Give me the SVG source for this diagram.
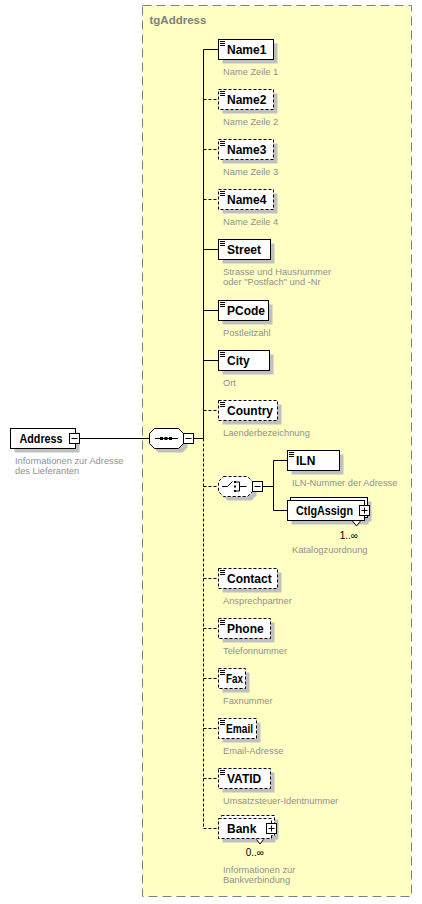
<svg xmlns="http://www.w3.org/2000/svg" xmlns:xlink="http://www.w3.org/1999/xlink" width="422" height="904" viewBox="0 0 422 904">
<style>
.bx{fill:#fff;stroke:#000;stroke-width:1}
.dsh{stroke-dasharray:3,2}
.sh{fill:#c0c0c0}
.nm{font-family:"Liberation Sans",Arial,sans-serif;font-weight:bold;font-size:12px;fill:#000}
.ds{font-family:"Liberation Sans",Arial,sans-serif;font-size:9.3px;fill:#909090}
.oc{font-family:"Liberation Sans",Arial,sans-serif;font-size:10px;fill:#000}
.ln{stroke:#000;stroke-width:1;fill:none}
</style>
<defs>
<path id="ic" d="M0,0H5M0,2H5M0,4H5" stroke="#000" stroke-width="1" fill="none"/>
<g id="minus"><rect x="0" y="0" width="10" height="10" fill="#fff" stroke="#000"/><path d="M2,5H8" stroke="#000"/></g>
<g id="plus"><rect x="0" y="0" width="10" height="10" fill="#fff" stroke="#000"/><path d="M2,5H8M5,2V8" stroke="#000"/></g>
<path id="oct" d="M5,0H29L34,5V15L29,20H5L0,15V5Z"/>
</defs>

<g id="tgAddress">
<rect x="142.5" y="5.5" width="269" height="891" fill="#FFFFC4" stroke="#808080" stroke-width="1" stroke-dasharray="9,5"/>
<text x="149.5" y="24" font-family="Liberation Sans, Arial, sans-serif" font-weight="bold" font-size="11.5px" fill="#808080">tgAddress</text>
</g>

<g id="connectors">
<path class="ln" d="M79.5,438.5H149.5M193.5,438.5H203.5M203.5,49.5V438.5"/>
<path class="ln dsh" d="M203.5,438.5V828.5"/>
<path class="ln" d="M203.5,49.5H218.5M203.5,249.5H218.5M203.5,310.5H218.5M203.5,360.5H218.5"/>
<path class="ln dsh" d="M203.5,99.5H218.5M203.5,149.5H218.5M203.5,199.5H218.5M203.5,410.5H218.5M203.5,486.5H218.5M203.5,578.5H218.5M203.5,628.5H218.5M203.5,678.5H218.5M203.5,728.5H218.5M203.5,778.5H218.5M203.5,828.5H218.5"/>
<path class="ln" d="M262.5,486.5H273.5M273.5,460.5V510.5M273.5,460.5H287.5M273.5,510.5H287.5"/>
</g>

<g id="Address">
<rect class="sh" x="14.5" y="432.5" width="65" height="20"/>
<rect class="bx" x="10.5" y="428.5" width="65" height="20"/>
<text class="nm" x="19.5" y="442.5" textLength="43" lengthAdjust="spacingAndGlyphs">Address</text>
<use href="#minus" x="69.5" y="433.5"/>
<text class="ds" x="15" y="463.5">Informationen zur Adresse</text>
<text class="ds" x="15" y="473.5">des Lieferanten</text>
</g>

<g id="sequence">
<use href="#oct" x="153.5" y="432.5" class="sh"/>
<use href="#oct" x="149.5" y="428.5" fill="#fff" stroke="#000"/>
<path class="ln" d="M155,438.5H178"/>
<rect x="160" y="437" width="3" height="3" fill="#000"/>
<rect x="164.5" y="437" width="3" height="3" fill="#000"/>
<rect x="169" y="437" width="3" height="3" fill="#000"/>
<use href="#minus" x="183.5" y="433.5"/>
</g>

<g id="Name1">
<rect class="sh" x="222.5" y="43.5" width="55" height="20"/>
<rect class="bx" x="218.5" y="39.5" width="55" height="20"/>
<use href="#ic" x="220" y="41.5"/>
<text class="nm" x="227" y="53.7">Name1</text>
<text class="ds" x="223" y="74.5">Name Zeile 1</text>
</g>

<g id="Name2">
<rect class="sh" x="222.5" y="93.5" width="55" height="20"/>
<rect class="bx dsh" x="218.5" y="89.5" width="55" height="20"/>
<use href="#ic" x="220" y="91.5"/>
<text class="nm" x="227" y="103.7">Name2</text>
<text class="ds" x="223" y="124.5">Name Zeile 2</text>
</g>

<g id="Name3">
<rect class="sh" x="222.5" y="143.5" width="55" height="20"/>
<rect class="bx dsh" x="218.5" y="139.5" width="55" height="20"/>
<use href="#ic" x="220" y="141.5"/>
<text class="nm" x="227" y="153.7">Name3</text>
<text class="ds" x="223" y="174.5">Name Zeile 3</text>
</g>

<g id="Name4">
<rect class="sh" x="222.5" y="193.5" width="55" height="20"/>
<rect class="bx dsh" x="218.5" y="189.5" width="55" height="20"/>
<use href="#ic" x="220" y="191.5"/>
<text class="nm" x="227" y="203.7">Name4</text>
<text class="ds" x="223" y="224.5">Name Zeile 4</text>
</g>

<g id="Street">
<rect class="sh" x="222.5" y="243.5" width="52" height="20"/>
<rect class="bx" x="218.5" y="239.5" width="52" height="20"/>
<use href="#ic" x="220" y="241.5"/>
<text class="nm" x="227" y="253.7">Street</text>
<text class="ds" x="223" y="275">Strasse und Hausnummer</text>
<text class="ds" x="223" y="285">oder "Postfach" und -Nr</text>
</g>

<g id="PCode">
<rect class="sh" x="222.5" y="304.5" width="50" height="20"/>
<rect class="bx" x="218.5" y="300.5" width="50" height="20"/>
<use href="#ic" x="220" y="302.5"/>
<text class="nm" x="227" y="314.7">PCode</text>
<text class="ds" x="223" y="335.5">Postleitzahl</text>
</g>

<g id="City">
<rect class="sh" x="222.5" y="354.5" width="51" height="20"/>
<rect class="bx" x="218.5" y="350.5" width="51" height="20"/>
<use href="#ic" x="220" y="352.5"/>
<text class="nm" x="227" y="364.7">City</text>
<text class="ds" x="223" y="385.5">Ort</text>
</g>

<g id="Country">
<rect class="sh" x="222.5" y="404.5" width="59" height="20"/>
<rect class="bx dsh" x="218.5" y="400.5" width="59" height="20"/>
<use href="#ic" x="220" y="402.5"/>
<text class="nm" x="227" y="414.7">Country</text>
<text class="ds" x="223" y="435.5">Laenderbezeichnung</text>
</g>

<g id="choice">
<use href="#oct" x="222.5" y="480.5" class="sh"/>
<use href="#oct" x="218.5" y="476.5" fill="#fff" stroke="#000" stroke-dasharray="3,2"/>
<path class="ln" d="M222,486.5H227.5L232.5,481.5"/>
<rect x="234" y="481" width="2" height="2" fill="#000"/>
<rect x="234" y="485.5" width="2" height="2" fill="#000"/>
<rect x="234" y="490" width="2" height="2" fill="#000"/>
<path class="ln" d="M236,482H239.5V491H236M239.5,486.5H246.5"/>
<use href="#minus" x="252.5" y="481.5"/>
</g>

<g id="ILN">
<rect class="sh" x="291.5" y="454.5" width="52" height="20"/>
<rect class="bx" x="287.5" y="450.5" width="52" height="20"/>
<use href="#ic" x="289" y="452.5"/>
<text class="nm" x="296" y="464.7">ILN</text>
<text class="ds" x="292" y="485.5">ILN-Nummer der Adresse</text>
</g>

<g id="CtlgAssign">
<rect class="sh" x="294.5" y="501.5" width="77" height="20"/>
<rect class="sh" x="291.5" y="504.5" width="77" height="20"/>
<rect class="bx" x="290.5" y="497.5" width="77" height="20"/>
<rect class="bx" x="287.5" y="500.5" width="77" height="20"/>
<text class="nm" x="296" y="514.7" textLength="57" lengthAdjust="spacingAndGlyphs">CtlgAssign</text>
<use href="#plus" x="359.5" y="505.5"/>
<polygon points="352.5,521 356.5,526 360.5,521" fill="#fff"/>
<polyline class="ln" points="352.5,521 356.5,526 360.5,521"/>
<text class="oc" x="358" y="538.5" text-anchor="end">1..∞</text>
<text class="ds" x="292" y="553">Katalogzuordnung</text>
</g>

<g id="Contact">
<rect class="sh" x="222.5" y="572.5" width="59" height="20"/>
<rect class="bx dsh" x="218.5" y="568.5" width="59" height="20"/>
<use href="#ic" x="220" y="570.5"/>
<text class="nm" x="227" y="582.7">Contact</text>
<text class="ds" x="223" y="603.5">Ansprechpartner</text>
</g>

<g id="Phone">
<rect class="sh" x="222.5" y="622.5" width="52" height="20"/>
<rect class="bx dsh" x="218.5" y="618.5" width="52" height="20"/>
<use href="#ic" x="220" y="620.5"/>
<text class="nm" x="227" y="632.7">Phone</text>
<text class="ds" x="223" y="653.5">Telefonnummer</text>
</g>

<g id="Fax">
<rect class="sh" x="222.5" y="672.5" width="27" height="20"/>
<rect class="bx dsh" x="218.5" y="668.5" width="27" height="20"/>
<use href="#ic" x="220" y="670.5"/>
<text class="nm" x="226" y="682.7" textLength="17" lengthAdjust="spacingAndGlyphs">Fax</text>
<text class="ds" x="223" y="703.5">Faxnummer</text>
</g>

<g id="Email">
<rect class="sh" x="222.5" y="722.5" width="38" height="20"/>
<rect class="bx dsh" x="218.5" y="718.5" width="38" height="20"/>
<use href="#ic" x="220" y="720.5"/>
<text class="nm" x="226" y="732.7" textLength="27" lengthAdjust="spacingAndGlyphs">Email</text>
<text class="ds" x="223" y="753.5">Email-Adresse</text>
</g>

<g id="VATID">
<rect class="sh" x="222.5" y="772.5" width="52" height="20"/>
<rect class="bx dsh" x="218.5" y="768.5" width="52" height="20"/>
<use href="#ic" x="220" y="770.5"/>
<text class="nm" x="227" y="782.7">VATID</text>
<text class="ds" x="223" y="803.5">Umsatzsteuer-Identnummer</text>
</g>

<g id="Bank">
<rect class="sh" x="225.5" y="819.5" width="53" height="20"/>
<rect class="sh" x="222.5" y="822.5" width="53" height="20"/>
<rect class="bx dsh" x="221.5" y="815.5" width="53" height="20"/>
<rect class="bx dsh" x="218.5" y="818.5" width="53" height="20"/>
<text class="nm" x="227" y="832.7">Bank</text>
<use href="#plus" x="266.5" y="823.5"/>
<polygon points="256.5,839.5 260,844 263.5,839.5" fill="#fff"/>
<polyline class="ln" points="256.5,839.5 260,844 263.5,839.5"/>
<text class="oc" x="264" y="856" text-anchor="end">0..∞</text>
<text class="ds" x="223" y="873">Informationen zur</text>
<text class="ds" x="223" y="883">Bankverbindung</text>
</g>
</svg>
